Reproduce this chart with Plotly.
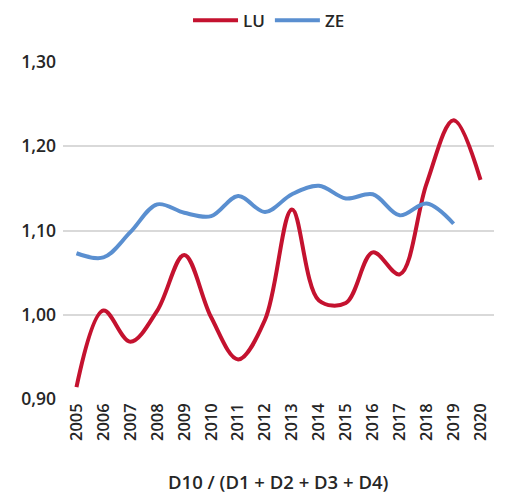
import plotly.graph_objects as go

years = [str(y) for y in range(2005, 2021)]
lu = [0.914, 1.005, 0.968, 1.005, 1.071, 0.997, 0.947, 0.994, 1.125, 1.017, 1.014, 1.074, 1.048, 1.156, 1.231, 1.160]
ze = [1.073, 1.068, 1.098, 1.131, 1.121, 1.117, 1.141, 1.122, 1.143, 1.153, 1.138, 1.143, 1.118, 1.132, 1.108]
ytick_vals = [0.9, 1.0, 1.1, 1.2, 1.3]
ytick_text = ["0,90", "1,00", "1,10", "1,20", "1,30"]
x_title = "D10 / (D1 + D2 + D3 + D4)"

FONT = "Open Sans"
fig = go.Figure()
fig.add_trace(go.Scatter(x=years, y=lu, name="LU", mode="lines",
                         line=dict(color="#C4122F", width=4, shape="spline", smoothing=1.0)))
fig.add_trace(go.Scatter(x=years[:len(ze)], y=ze, name="ZE", mode="lines",
                         line=dict(color="#5A8FD0", width=4, shape="spline", smoothing=1.0)))

# page body has an 8px default margin, so the figure is drawn 8px smaller
fig.update_layout(
    width=523, height=487,
    margin=dict(l=55, r=37, t=54, b=96),
    paper_bgcolor="white", plot_bgcolor="white",
    font=dict(family=FONT, color="#262626", size=17),
    legend=dict(orientation="h", x=0.478, xanchor="center", y=0.974, yanchor="middle",
                yref="container", font=dict(size=17, weight=600), itemwidth=45,
                traceorder="normal", tracegroupgap=0),
    showlegend=True,
)
fig.update_xaxes(type="category", range=[-0.5, 15.5], tickangle=-90, showgrid=False,
                 showline=False, ticks="", automargin=False,
                 tickfont=dict(size=16.5, weight=600))
fig.update_yaxes(range=[0.9, 1.3], tickvals=ytick_vals, ticktext=ytick_text, showgrid=True,
                 gridcolor="#D9D9D9", gridwidth=1.5, zeroline=False, showline=False,
                 automargin=False, tickfont=dict(size=17.5, weight=600), ticks="",
                 ticklabelstandoff=6)
fig.add_annotation(text=x_title, xref="paper", yref="paper", x=0.5, y=0,
                   xanchor="center", yanchor="middle", yshift=-82, showarrow=False,
                   font=dict(size=18.5, weight=600, family=FONT, color="#262626"))
fig.write_html("out.html")
